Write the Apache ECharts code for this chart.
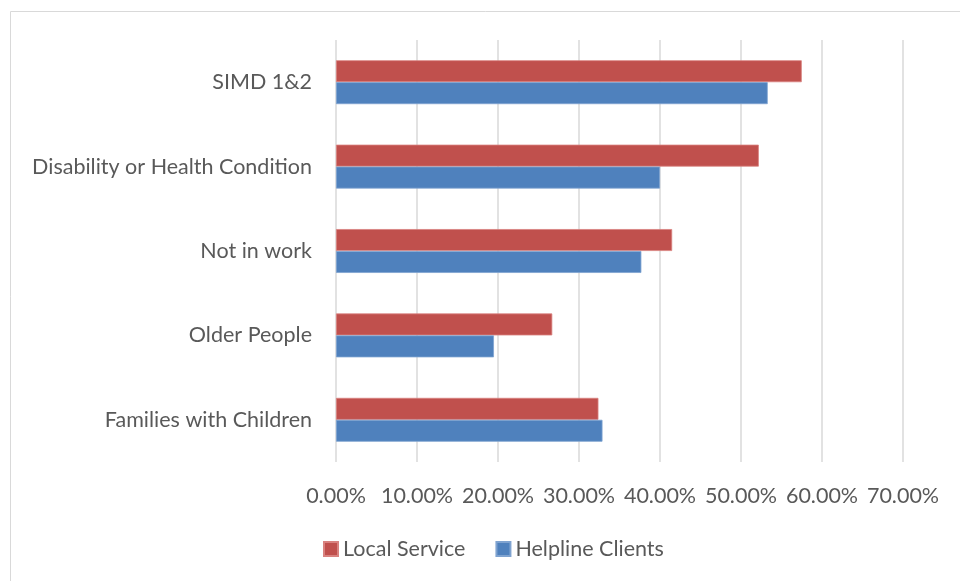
<!DOCTYPE html>
<html>
<head>
<meta charset="utf-8">
<script src="https://cdn.jsdelivr.net/npm/echarts@6/dist/echarts.min.js"></script>
<style>
  html, body { margin: 0; padding: 0; background: #fff; }
  #chart { width: 960px; height: 581px; }
</style>
</head>
<body>
<div id="chart"></div>
<script>
const categories = ['SIMD 1&2', 'Disability or Health Condition', 'Not in work', 'Older People', 'Families with Children'];
const localService = [57.5, 52.2, 41.5, 26.7, 32.4];
const helplineClients = [53.3, 40.0, 37.7, 19.5, 32.9];

const chart = echarts.init(document.getElementById('chart'));
const font = 'Lato, "Open Sans", sans-serif';
const fontSize = 21.5;

chart.setOption({
  animation: false,
  graphic: [{
    type: 'rect',
    shape: { x: 10.5, y: 11.5, width: 980, height: 600 },
    style: { fill: 'none', stroke: '#d9d9d9', lineWidth: 1 },
    silent: true,
  }],
  grid: {
    left: 336,
    right: 57,
    top: 40,
    bottom: 119,
  },
  legend: {
    top: 533,
    left: 318,
    itemWidth: 14,
    itemHeight: 14,
    itemGap: 30,
    icon: 'rect',
    textStyle: { color: '#595959', fontSize, fontFamily: font },
    data: ['Local Service', 'Helpline Clients'],
  },
  xAxis: {
    type: 'value',
    min: 0,
    max: 70,
    interval: 10,
    axisLine: { show: false },
    axisTick: { show: false },
    axisLabel: {
      color: '#595959',
      fontSize,
      fontFamily: font,
      margin: 23,
      formatter: (v) => `${v.toFixed(2)}%`,
    },
    splitLine: { lineStyle: { color: '#d9d9d9', width: 1.5 } },
  },
  yAxis: {
    type: 'category',
    data: categories,
    inverse: true,
    axisLine: { show: false },
    axisTick: { show: false },
    axisLabel: {
      color: '#595959',
      fontSize,
      fontFamily: font,
      margin: 24,
    },
  },
  series: [
    {
      name: 'Local Service',
      type: 'bar',
      data: localService,
      barGap: '0%',
      barCategoryGap: '48%',
      itemStyle: { color: '#c0504d', borderColor: '#d9827f', borderWidth: 0.8 },
    },
    {
      name: 'Helpline Clients',
      type: 'bar',
      data: helplineClients,
      barGap: '0%',
      barCategoryGap: '48%',
      itemStyle: { color: '#4f81bd', borderColor: '#7fa3d0', borderWidth: 0.8 },
    },
  ],
});
</script>
</body>
</html>
